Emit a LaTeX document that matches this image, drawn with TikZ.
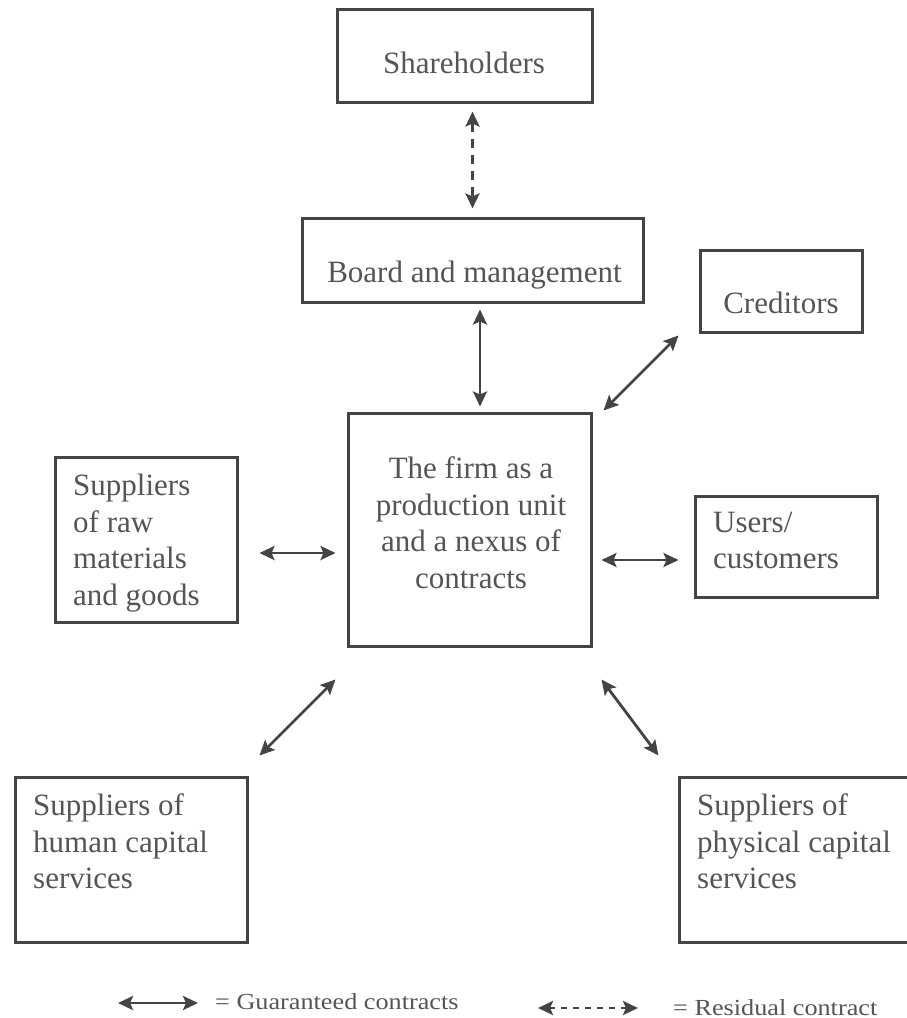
\documentclass[tikz,border=0pt]{standalone}
\usepackage{fontspec}
\setmainfont{Liberation Serif}
\newfontfamily\legendfont{Liberation Serif}[FakeStretch=1.14]
\usetikzlibrary{arrows.meta,calc}
\definecolor{linec}{HTML}{444444}
\definecolor{textc}{HTML}{555555}
\begin{document}
\begin{tikzpicture}[x=1pt,y=-1pt,
  box/.style={draw=linec,line width=3pt,rectangle,inner sep=0pt},
  lbl/.style={inner sep=0pt,text=textc,font=\fontsize{31}{36.5}\selectfont},
  leg/.style={inner sep=0pt,text=textc,font=\legendfont\fontsize{23}{26}\selectfont},
  guar/.style={draw=linec,line width=2.8pt,{Stealth[length=15pt,width=14pt,inset=3pt]}-{Stealth[length=15pt,width=14pt,inset=3pt]}},
  resid/.style={guar,dash pattern=on 9pt off 7pt},
  residleg/.style={guar,dash pattern=on 6pt off 6pt}]
\useasboundingbox (0,0) rectangle (906,1018);
\fill[white] (0,0) rectangle (906,1018);

% boxes
\node[box,minimum width=255pt,minimum height=93pt] (sh) at (464.5,55.5) {};
\node[box,minimum width=341pt,minimum height=84pt] (bm) at (472.5,260) {};
\node[box,minimum width=162pt,minimum height=82pt] (cr) at (781,291) {};
\node[box,minimum width=243pt,minimum height=233pt] (fm) at (469.5,529.5) {};
\node[box,minimum width=182pt,minimum height=165pt] (rw) at (146,539.5) {};
\node[box,minimum width=182pt,minimum height=101pt] (us) at (786,546.5) {};
\node[box,minimum width=232pt,minimum height=165pt] (hs) at (131,859.5) {};
\node[box,minimum width=246pt,minimum height=165pt] (ps) at (802,859.5) {};

% labels
\node[lbl,anchor=base] (shl) at (464,73) {Shareholders};
\node[lbl,anchor=base] (bml) at (474.5,282) {Board and management};
\node[lbl,anchor=base] (crl) at (781,313) {Creditors};
\node[lbl,anchor=north,align=center] (fml) at (471,456.8) {The firm as a\\production unit\\and a nexus of\\contracts};
\node[lbl,anchor=north west,align=left] (rwl) at (73,473.8) {Suppliers\\of raw\\materials\\and goods};
\node[lbl,anchor=north west,align=left] (usl) at (713,511.8) {Users/\\customers};
\node[lbl,anchor=north west,align=left] (hsl) at (33,793.8) {Suppliers of\\human capital\\services};
\node[lbl,anchor=north west,align=left] (psl) at (697,793.8) {Suppliers of\\physical capital\\services};

% connectors
\draw[resid] ([shift={(8,8)}]sh.south) -- ([shift={(0,-8)}]bm.north);
\draw[guar] ([shift={(7.5,6)}]bm.south) -- ([shift={(10.5,-5)}]fm.north);
\draw[guar] ([shift={(11,-1)}]fm.north east) -- ([shift={(-20,2)}]cr.south west);
\draw[guar] ([shift={(21,13.5)}]rw.east) -- ([shift={(-11,23.5)}]fm.west);
\draw[guar] ([shift={(9,30.5)}]fm.east) -- ([shift={(-15,13.5)}]us.west);
\draw[guar] ([shift={(11,-20)}]hs.north east) -- ([shift={(-11,32)}]fm.south west);
\draw[guar] ([shift={(9,32)}]fm.south east) -- ([shift={(-19,-20)}]ps.north west);

% legend
\coordinate (g1) at (118,1003);
\coordinate (g2) at (198,1003);
\coordinate (r1) at (538,1008);
\coordinate (r2) at (638,1008);
\draw[guar] (g1) -- (g2);
\draw[residleg] (r1) -- (r2);
\node[leg,anchor=base west] (gl) at (215,1009) {= Guaranteed contracts};
\node[leg,anchor=base west] (rl) at (673,1015) {= Residual contract};
\end{tikzpicture}
\end{document}
